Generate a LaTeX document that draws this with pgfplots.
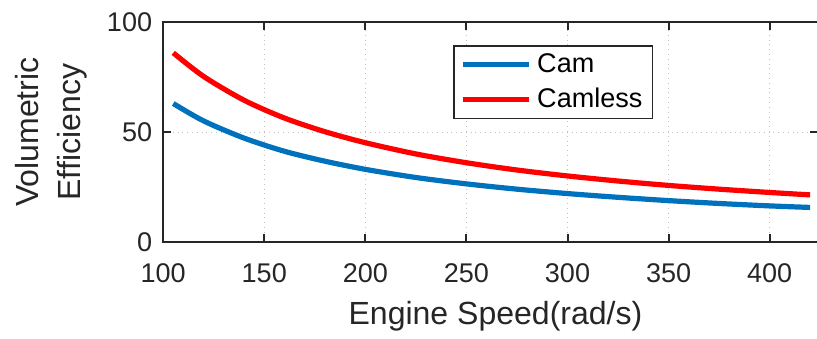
\documentclass[border=0pt]{standalone}
\usepackage{pgfplots}
\pgfplotsset{compat=1.18}
\usepackage{fontspec}
\setmainfont{Liberation Sans}
\definecolor{camblue}{RGB}{0,114,189}
\definecolor{camred}{RGB}{255,0,0}
\definecolor{axgray}{RGB}{38,38,38}
\begin{document}
\begin{tikzpicture}
\begin{axis}[
  at={(0,0)}, anchor=south west,
  scale only axis,
  width=327pt, height=110pt,
  xmin=100, xmax=423.8, ymin=0, ymax=100,
  xtick={100,150,...,400}, ytick={0,50,100},
  /pgf/number format/assume math mode=true,
  tick label style={font=\fontsize{13.5}{16}\selectfont, text=axgray},
  xticklabel style={yshift=-7pt},
  yticklabel style={xshift=-2pt},
  tick align=inside,
  major tick length=4pt,
  every tick/.style={axgray, line width=1pt},
  axis line style={axgray, line width=1pt},
  grid=major,
  major grid style={gray!50, dotted, line width=0.6pt},
  every axis x label/.style={at={(rel axis cs:0.5,0)}, xshift=2.5pt, yshift=-37pt, anchor=center},
  every axis y label/.style={at={(rel axis cs:0,0.5)}, xshift=-56pt, rotate=90, anchor=center, align=center},
  label style={font=\fontsize{16}{21}\selectfont, text=axgray},
  xlabel={Engine Speed(rad/s)},
  ylabel={Volumetric\\Efficiency},
  legend style={at={(rel axis cs:0.443,0.895)}, anchor=north west,
    draw=axgray, line width=0.8pt, fill=white,
    font=\fontsize{13.5}{15}\selectfont,
    inner xsep=3pt, inner ysep=2pt,
    row sep=2pt,
    /tikz/every odd column/.append style={column sep=1pt}},
  legend cell align=left,
  legend image code/.code={\draw[#1] (0pt,0pt) -- (33pt,0pt);},
]
% Cam
\addplot[camblue, line width=2.6pt, smooth] coordinates {
  (105,63.0) (120,55.1) (140,47.3) (160,41.3) (180,36.8) (200,33.1)
  (225,29.4) (250,26.5) (275,24.1) (300,22.1) (325,20.4) (350,18.9)
  (375,17.6) (400,16.5) (420,15.8)
};
\addlegendentry{Cam}
% Camless
\addplot[camred, line width=2.6pt, smooth] coordinates {
  (105,86.0) (120,75.3) (140,64.5) (160,56.4) (180,50.2) (200,45.2)
  (225,40.1) (250,36.1) (275,32.8) (300,30.1) (325,27.8) (350,25.8)
  (375,24.1) (400,22.6) (420,21.5)
};
\addlegendentry{Camless}
\end{axis}
\pgfresetboundingbox
\path (-81.5pt,-48pt) rectangle (326.6pt,121pt);
\end{tikzpicture}
\end{document}
